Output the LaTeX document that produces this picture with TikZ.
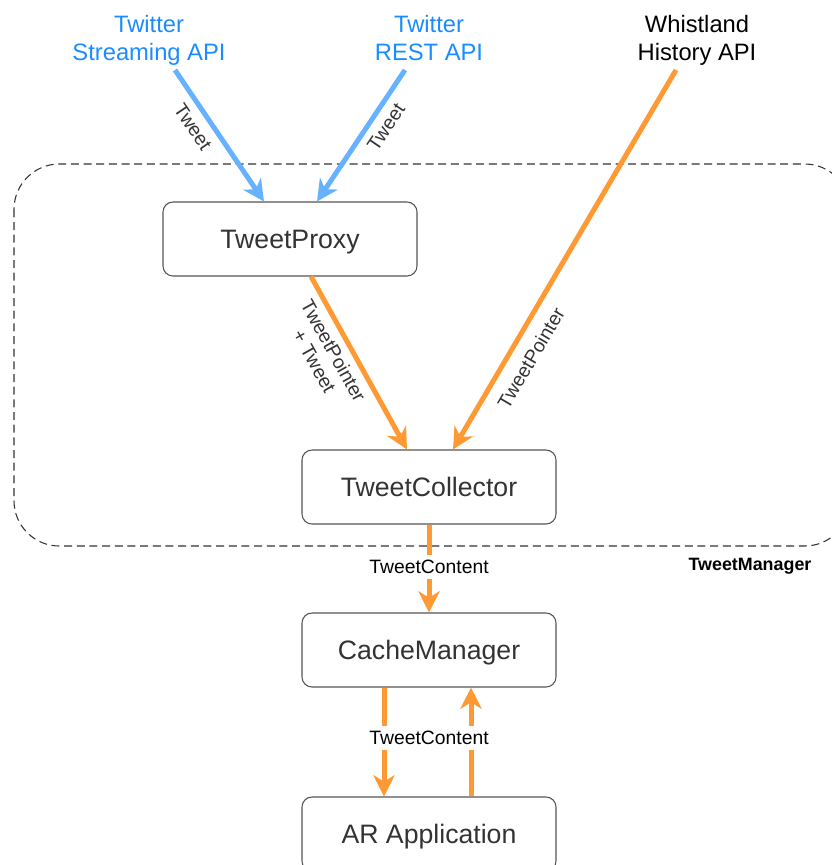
\documentclass[tikz,border=0pt]{standalone}
\usepackage{fontspec}
\setmainfont{Liberation Sans}
\usetikzlibrary{arrows.meta,calc}
\definecolor{tblue}{HTML}{1A8CFF}
\definecolor{ablue}{HTML}{66B2FF}
\definecolor{aorange}{HTML}{FF9933}
\definecolor{boxgray}{HTML}{555555}
\definecolor{txtgray}{HTML}{333333}
\tikzset{
  comp/.style={draw=boxgray, line width=0.8pt, rounded corners=7.5pt, minimum width=190.5pt, minimum height=55.5pt, text=txtgray, font=\fontsize{20}{24}\selectfont, text height=18pt, text depth=3.6pt},
  src/.style={align=center, anchor=north, font=\fontsize{17.8}{21}\selectfont},
  flow/.style={line width=3.75pt, -{Stealth[length=16pt,width=16pt,inset=5pt]}},
  elabel/.style={font=\fontsize{14.5}{16.5}\selectfont, text=txtgray, align=center, inner sep=2pt},
}
\begin{document}
\begin{tikzpicture}[x=0.75pt,y=-0.75pt]
\useasboundingbox (0,0) rectangle (832,865);
% group box
\draw[txtgray, line width=0.8pt, dash pattern=on 6pt off 3.5pt, rounded corners=34pt] (14,164) rectangle (850,546);
\node[elabel, text=black, font=\bfseries\fontsize{13.4}{16}\selectfont] (tm) at (750,566) {TweetManager};
% sources
\node[src, text=tblue] (sapi) at (149,11) {Twitter\\Streaming API};
\node[src, text=tblue] (rapi) at (429,11) {Twitter\\REST API};
\node[src, text=black] (wapi) at (697,11) {Whistland\\History API};
% components
\node[comp] (proxy) at (290,239) {TweetProxy};
\node[comp] (coll) at (429,487) {TweetCollector};
\node[comp] (cache) at (429,650) {CacheManager};
\node[comp] (ar) at (429,834) {AR Application};
% anchors
\coordinate (s1) at ($(sapi.north)+(26,59)$);
\coordinate (s2) at ($(rapi.north)+(-24,59)$);
\coordinate (s3) at ($(wapi.north)+(-21,59)$);
% connectors
\draw[flow, ablue] (s1) -- ($(proxy.north)+(-26,0)$);
\draw[flow, ablue] (s2) -- ($(proxy.north)+(27,0)$);
\draw[flow, aorange] (s3) -- ($(coll.north)+(24,0)$);
\draw[flow, aorange] ($(proxy.south)+(21,0)$) -- ($(coll.north)+(-22,0)$);
\draw[flow, aorange] (coll.south) -- (cache.north);
\draw[flow, aorange] ($(cache.south)+(-45,0)$) -- ($(ar.north)+(-45,0)$);
\draw[flow, aorange] ($(ar.north)+(42,0)$) -- ($(cache.south)+(42,0)$);
% labels
\node[elabel, rotate=-56] (l1) at (193,127) {Tweet};
\node[elabel, rotate=56] (l2) at (386,127) {Tweet};
\node[elabel, rotate=-61] (l3) at (324,356) {TweetPointer\\+ Tweet};
\node[elabel, rotate=59.6] (l4) at (531,358) {TweetPointer};
\node[elabel, text=black, fill=white, inner ysep=4pt] (l5) at (429,567) {TweetContent};
\node[elabel, text=black, fill=white, inner ysep=4pt] (l6) at (429,738) {TweetContent};
\end{tikzpicture}
\end{document}
